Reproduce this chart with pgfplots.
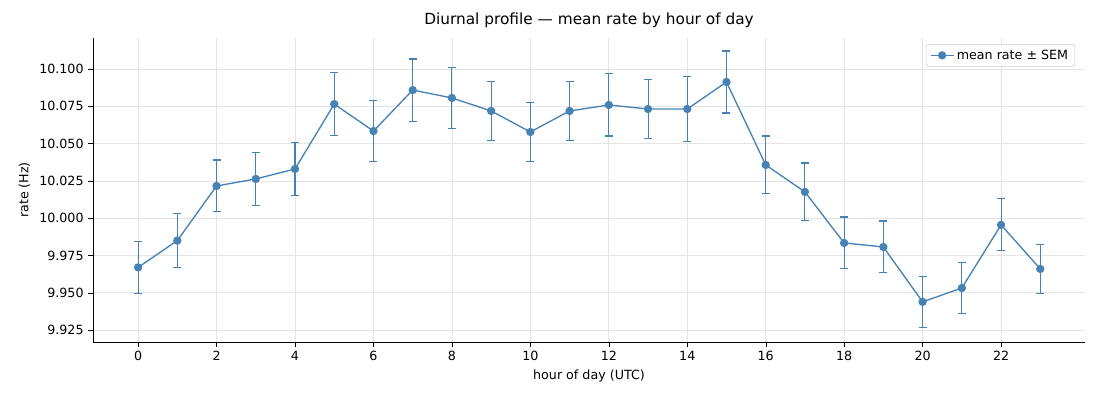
\documentclass[border=0pt]{standalone}
\usepackage{pgfplots}
\pgfplotsset{compat=1.18}
\usepackage{fontspec}
\setmainfont{DejaVu Sans}
\definecolor{c1}{HTML}{4682B4}
\begin{document}
\begin{tikzpicture}
\begin{axis}[name=ax,
 scale only axis, width=744pt, height=228pt,
 xmin=-1.15, xmax=24.14, ymin=9.917, ymax=10.1208,
 axis x line*=bottom, axis y line*=left,
 xtick={0,2,...,22}, ytick={9.925,9.95,...,10.1},
 yticklabel style={/pgf/number format/.cd,fixed,fixed zerofill,precision=3},
 /pgf/number format/assume math mode=true,
 tick align=outside, tick style={black}, major tick length=3.5pt,
 ticklabel style={font=\fontsize{9.5}{11}\selectfont},
 grid=major, grid style={gray!20, line width=0.5pt},
 xlabel={hour of day (UTC)}, ylabel={rate (Hz)},
 label style={font=\fontsize{9.5}{11}\selectfont},
 title={Diurnal profile — mean rate by hour of day},
 title style={font=\fontsize{11.5}{13}\selectfont, yshift=-2pt},
 legend style={at={(0.99,0.98)}, anchor=north east, draw=gray!40, rounded corners=2pt, font=\fontsize{9.5}{11}\selectfont},
 legend cell align=left,
]
\addplot[c1, line width=1pt, mark=*, mark size=2.6pt,
 error bars/.cd, y dir=both, y explicit,
 error bar style={line width=0.8pt, c1},
 error mark options={rotate=90, mark size=3pt, line width=0.8pt, c1}]
 table[x=x, y=y, y error=e] {
x y e
0 9.967 0.0174
1 9.985 0.0180
2 10.0216 0.0174
3 10.0263 0.0180
4 10.033 0.0180
5 10.0765 0.021
6 10.0584 0.0205
7 10.0859 0.0208
8 10.0806 0.0205
9 10.0719 0.020
10 10.0578 0.020
11 10.0719 0.020
12 10.0759 0.0208
13 10.0732 0.020
14 10.0732 0.0215
15 10.0913 0.0208
16 10.0357 0.0194
17 10.0176 0.0194
18 9.9834 0.0174
19 9.9807 0.0174
20 9.9439 0.0170
21 9.9532 0.0174
22 9.9955 0.0174
23 9.966 0.0164
};
\addlegendentry{mean rate ± SEM}
\end{axis}
\path[use as bounding box] ([xshift=-69.75pt,yshift=-43.5pt]ax.south west) rectangle ([xshift=11.25pt,yshift=28.5pt]ax.north east);
\end{tikzpicture}
\end{document}
